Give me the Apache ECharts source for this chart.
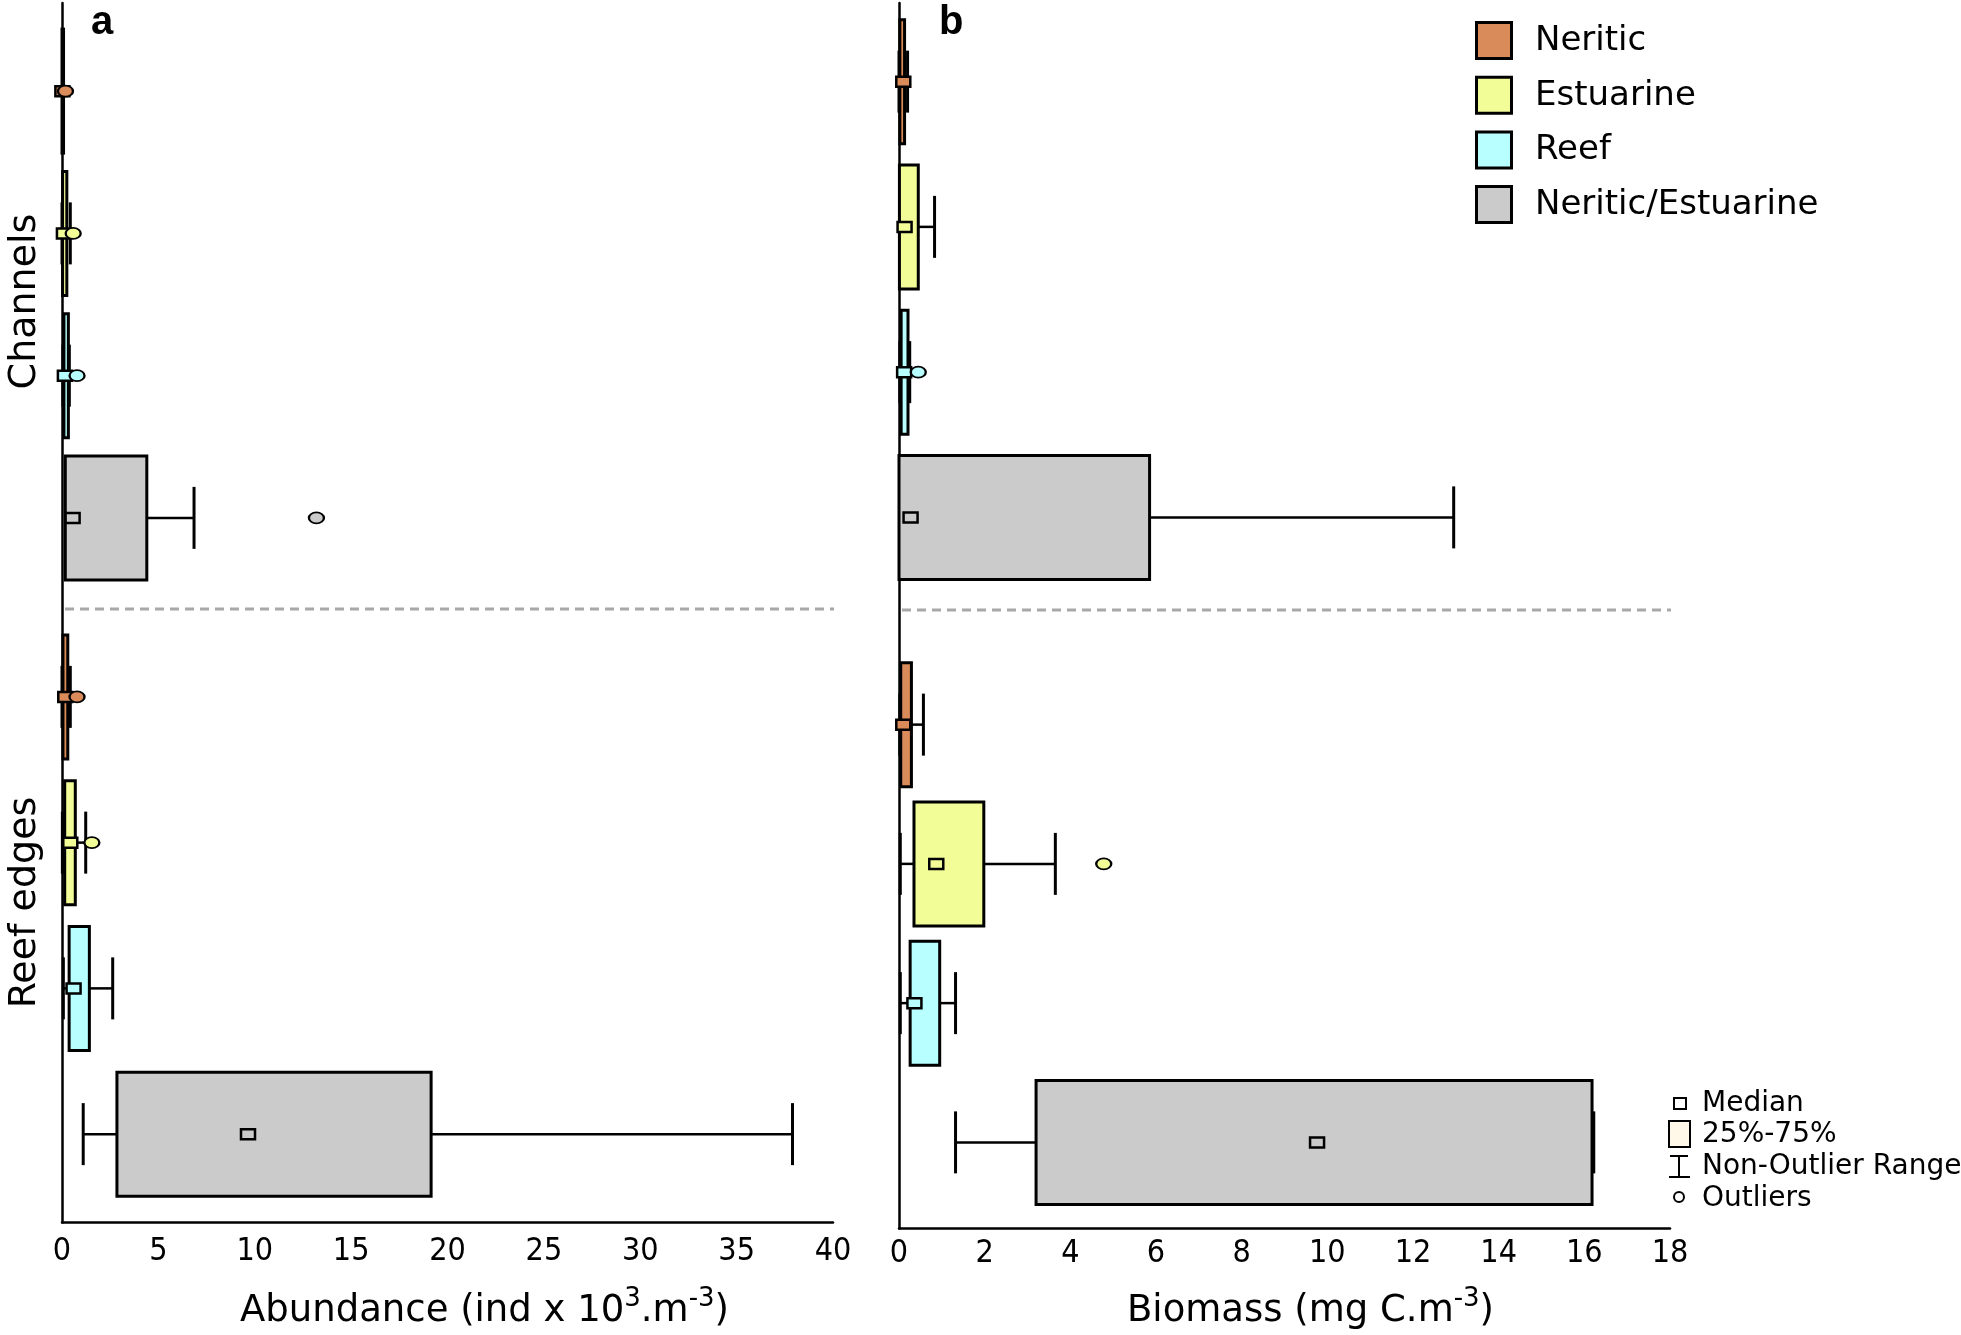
<!DOCTYPE html>
<html>
<head>
<meta charset="utf-8">
<script src="https://cdn.jsdelivr.net/npm/echarts@6/dist/echarts.min.js"></script>
<style>
html,body{margin:0;padding:0;background:#fff;}
#chart{width:1961px;height:1335px;}
</style>
</head>
<body>
<div id="chart"></div>
<script>
// ---------------- data ----------------
const categories = ['Neritic', 'Estuarine', 'Reef', 'Neritic/Estuarine'];
const groupNames = ['Channels', 'Reef edges'];
const categoryColors = ['#D98B5A', '#F2FD98', '#B8FFFF', '#CBCBCB'];
const boxLegendLabels = ['Median', '25%-75%', 'Non-Outlier Range', 'Outliers'];

const abundanceAxis = { min: 0, max: 40, interval: 5 };
const biomassAxis = { min: 0, max: 18, interval: 2 };

// each row: [min, q1, median, q3, max]
const abundanceChannels = [
  [0, 0, 0.02, 0.08, 0.1],
  [0, 0.03, 0.1, 0.25, 0.43],
  [0.05, 0.1, 0.15, 0.33, 0.38],
  [0.17, 0.17, 0.55, 4.4, 6.85]
];
const abundanceChannelsOutliers = [[0.18], [0.58], [0.78], [13.2]];

const abundanceReef = [
  [0, 0.05, 0.17, 0.3, 0.43],
  [0.02, 0.14, 0.43, 0.69, 1.23],
  [0.07, 0.37, 0.6, 1.42, 2.63],
  [1.1, 2.85, 9.65, 19.15, 37.9]
];
const abundanceReefOutliers = [[0.78], [1.55], [], []];

const biomassChannels = [
  [0, 0.02, 0.1, 0.13, 0.2],
  [0, 0.01, 0.13, 0.45, 0.83],
  [0.02, 0.05, 0.12, 0.21, 0.25],
  [0, 0, 0.27, 5.85, 12.95]
];
const biomassChannelsOutliers = [[], [], [0.45], []];

const biomassReef = [
  [0.02, 0.04, 0.1, 0.29, 0.57],
  [0.03, 0.35, 0.87, 1.98, 3.65],
  [0.03, 0.26, 0.36, 0.95, 1.32],
  [1.32, 3.2, 9.76, 16.18, 16.22]
];
const biomassReefOutliers = [[], [4.78], [], []];

// ---------------- styling / layout ----------------
const FONT = "'DejaVu Sans', Verdana, sans-serif";
const TICK_FONT = "'DejaVu Sans Condensed', 'DejaVu Sans', sans-serif";
const BOX_H = 124;
const CAP_H = 62;

const chart = echarts.init(document.getElementById('chart'), null, { renderer: 'canvas' });

function boxItems(stats) {
  return stats.map((s, i) => s.concat([i]));
}
function outlierItems(outs) {
  const arr = [];
  outs.forEach((list, i) => list.forEach(v => arr.push([v, i])));
  return arr;
}

function renderBox(params, api) {
  const cat = api.value(5);
  const color = categoryColors[cat];
  const pMin = api.coord([api.value(0), cat]);
  const pQ1 = api.coord([api.value(1), cat]);
  const pMed = api.coord([api.value(2), cat]);
  const pQ3 = api.coord([api.value(3), cat]);
  const pMax = api.coord([api.value(4), cat]);
  const cy = pMed[1];
  const line = { stroke: '#000', lineWidth: 2.5 };
  const children = [];
  if (pMin[0] < pQ1[0] - 0.5) {
    children.push({ type: 'line', shape: { x1: pMin[0], y1: cy, x2: pQ1[0], y2: cy }, style: line });
    children.push({ type: 'line', shape: { x1: pMin[0], y1: cy - CAP_H / 2, x2: pMin[0], y2: cy + CAP_H / 2 }, style: { stroke: '#000', lineWidth: 3 } });
  }
  if (pMax[0] > pQ3[0] + 0.5) {
    children.push({ type: 'line', shape: { x1: pQ3[0], y1: cy, x2: pMax[0], y2: cy }, style: line });
    children.push({ type: 'line', shape: { x1: pMax[0], y1: cy - CAP_H / 2, x2: pMax[0], y2: cy + CAP_H / 2 }, style: { stroke: '#000', lineWidth: 3 } });
  }
  children.push({
    type: 'rect',
    shape: { x: pQ1[0], y: cy - BOX_H / 2, width: Math.max(pQ3[0] - pQ1[0], 0.5), height: BOX_H },
    style: { fill: color, stroke: '#000', lineWidth: 3 }
  });
  children.push({
    type: 'rect',
    shape: { x: pMed[0] - 7, y: cy - 5, width: 14, height: 10 },
    style: { fill: color, stroke: '#000', lineWidth: 2.5 }
  });
  return { type: 'group', children: children };
}

// grids: 0 a-frame, 1 a-channels, 2 a-reef, 3 b-frame, 4 b-channels, 5 b-reef
const grids = [
  { left: 62, top: 3, width: 771, height: 1222 },
  { left: 62, top: 20, width: 771, height: 569 },
  { left: 62, top: 624, width: 771, height: 583 },
  { left: 899, top: 3, width: 771, height: 1228 },
  { left: 899, top: 9, width: 771, height: 581 },
  { left: 899, top: 655, width: 771, height: 557 }
];

function frameX(gridIndex, ax, rich, padLeft, gap, labelMargin) {
  return {
    type: 'value', gridIndex: gridIndex, min: ax.min, max: ax.max, interval: ax.interval,
    axisLine: { show: true, onZero: false, lineStyle: { color: '#000', width: 2.5 } },
    axisTick: { show: false },
    splitLine: { show: false },
    axisLabel: { color: '#000', fontSize: 32, fontFamily: TICK_FONT, margin: labelMargin },
    name: rich,
    nameLocation: 'middle',
    nameGap: gap,
    nameTextStyle: {
      padding: [0, 0, 0, padLeft],
      rich: {
        t: { fontSize: 37, fontFamily: FONT, color: '#000', lineHeight: 50, verticalAlign: 'middle' },
        s: { fontSize: 26, fontFamily: FONT, color: '#000', lineHeight: 22, verticalAlign: 'top' }
      }
    }
  };
}
function hiddenX(gridIndex, ax) {
  return { type: 'value', gridIndex: gridIndex, min: ax.min, max: ax.max, show: false, splitLine: { show: false } };
}
function frameY(gridIndex) {
  return {
    type: 'value', gridIndex: gridIndex, min: 0, max: 1,
    axisLine: { show: true, onZero: false, lineStyle: { color: '#000', width: 2.5 } },
    axisTick: { show: false }, axisLabel: { show: false }, splitLine: { show: false }
  };
}
function catY(gridIndex, name, padLeft) {
  return {
    type: 'category', gridIndex: gridIndex, data: categories, inverse: true,
    axisLine: { show: false }, axisTick: { show: false }, axisLabel: { show: false }, splitLine: { show: false },
    name: name || '', nameLocation: 'middle', nameRotate: 90, nameGap: 18,
    nameTextStyle: { fontSize: 38, fontFamily: FONT, color: '#000', padding: [0, 0, 0, padLeft || 0] }
  };
}

const xAxes = [
  frameX(0, abundanceAxis, '{t|Abundance (ind x 10}{s|3}{t|.m}{s|-3}{t|)}', 74, 64, 13),
  hiddenX(1, abundanceAxis),
  hiddenX(2, abundanceAxis),
  frameX(3, biomassAxis, '{t|Biomass (mg C.m}{s|-3}{t|)}', 52, 58, 9),
  hiddenX(4, biomassAxis),
  hiddenX(5, biomassAxis)
];
const yAxes = [
  frameY(0),
  catY(1, groupNames[0], 6),
  catY(2, groupNames[1], 26),
  frameY(3),
  catY(4, '', 0),
  catY(5, '', 0)
];

function boxSeries(gi, stats) {
  return {
    type: 'custom', xAxisIndex: gi, yAxisIndex: gi,
    renderItem: renderBox,
    encode: { x: [0, 1, 2, 3, 4], y: 5 },
    data: boxItems(stats), z: 2
  };
}
function outlierSeries(gi, outs) {
  return {
    type: 'scatter', xAxisIndex: gi, yAxisIndex: gi,
    symbol: 'circle', symbolSize: [15, 11],
    itemStyle: { color: p => categoryColors[p.value[1]], borderColor: '#000', borderWidth: 2, opacity: 1 },
    data: outlierItems(outs), z: 3
  };
}

// legend graphics (category colours)
const graphics = [];
categories.forEach((c, i) => {
  const cy = 39 + i * 54.7;
  graphics.push({ type: 'rect', left: 1475, top: cy - 18, shape: { width: 35, height: 36 }, style: { fill: categoryColors[i], stroke: '#000', lineWidth: 3 } });
  graphics.push({ type: 'text', left: 1535, top: cy - 15, style: { text: c, fontSize: 34, fontFamily: FONT, fill: '#000' } });
});
// box-style legend
const bl = [1106, 1137, 1169, 1201];
graphics.push({ type: 'rect', left: 1673, top: 1097, shape: { width: 12, height: 11 }, style: { fill: '#fff', stroke: '#000', lineWidth: 2 } });
graphics.push({ type: 'rect', left: 1668, top: 1120, shape: { width: 21, height: 26 }, style: { fill: '#FFF8E8', stroke: '#000', lineWidth: 2 } });
graphics.push({ type: 'line', shape: { x1: 1679, y1: 1156, x2: 1679, y2: 1177 }, style: { stroke: '#000', lineWidth: 2 } });
graphics.push({ type: 'line', shape: { x1: 1670, y1: 1156, x2: 1688, y2: 1156 }, style: { stroke: '#000', lineWidth: 2 } });
graphics.push({ type: 'line', shape: { x1: 1669, y1: 1177, x2: 1690, y2: 1177 }, style: { stroke: '#000', lineWidth: 2 } });
graphics.push({ type: 'circle', shape: { cx: 1679, cy: 1197, r: 5 }, style: { fill: '#fff', stroke: '#000', lineWidth: 2 } });
boxLegendLabels.forEach((t, i) => {
  graphics.push({ type: 'text', left: 1702, top: bl[i] - 16, style: { text: t, fontSize: 28, fontFamily: FONT, fill: '#000' } });
});
// dashed separators between Channels and Reef edges
graphics.push({ type: 'line', shape: { x1: 65, y1: 609, x2: 834, y2: 609 }, style: { stroke: '#A8A8A8', lineWidth: 3, lineDash: [9, 6] } });
graphics.push({ type: 'line', shape: { x1: 902, y1: 610, x2: 1671, y2: 610 }, style: { stroke: '#A8A8A8', lineWidth: 3, lineDash: [9, 6] } });

const option = {
  animation: false,
  backgroundColor: '#fff',
  title: [
    { text: 'a', left: 86, top: -2, textStyle: { fontSize: 40, fontWeight: 'bold', fontFamily: "'Liberation Sans', Arial, sans-serif", color: '#000' } },
    { text: 'b', left: 934, top: -2, textStyle: { fontSize: 40, fontWeight: 'bold', fontFamily: "'Liberation Sans', Arial, sans-serif", color: '#000' } }
  ],
  grid: grids,
  xAxis: xAxes,
  yAxis: yAxes,
  series: [
    boxSeries(1, abundanceChannels), outlierSeries(1, abundanceChannelsOutliers),
    boxSeries(2, abundanceReef), outlierSeries(2, abundanceReefOutliers),
    boxSeries(4, biomassChannels), outlierSeries(4, biomassChannelsOutliers),
    boxSeries(5, biomassReef), outlierSeries(5, biomassReefOutliers)
  ],
  graphic: graphics
};
chart.setOption(option);
</script>
</body>
</html>
